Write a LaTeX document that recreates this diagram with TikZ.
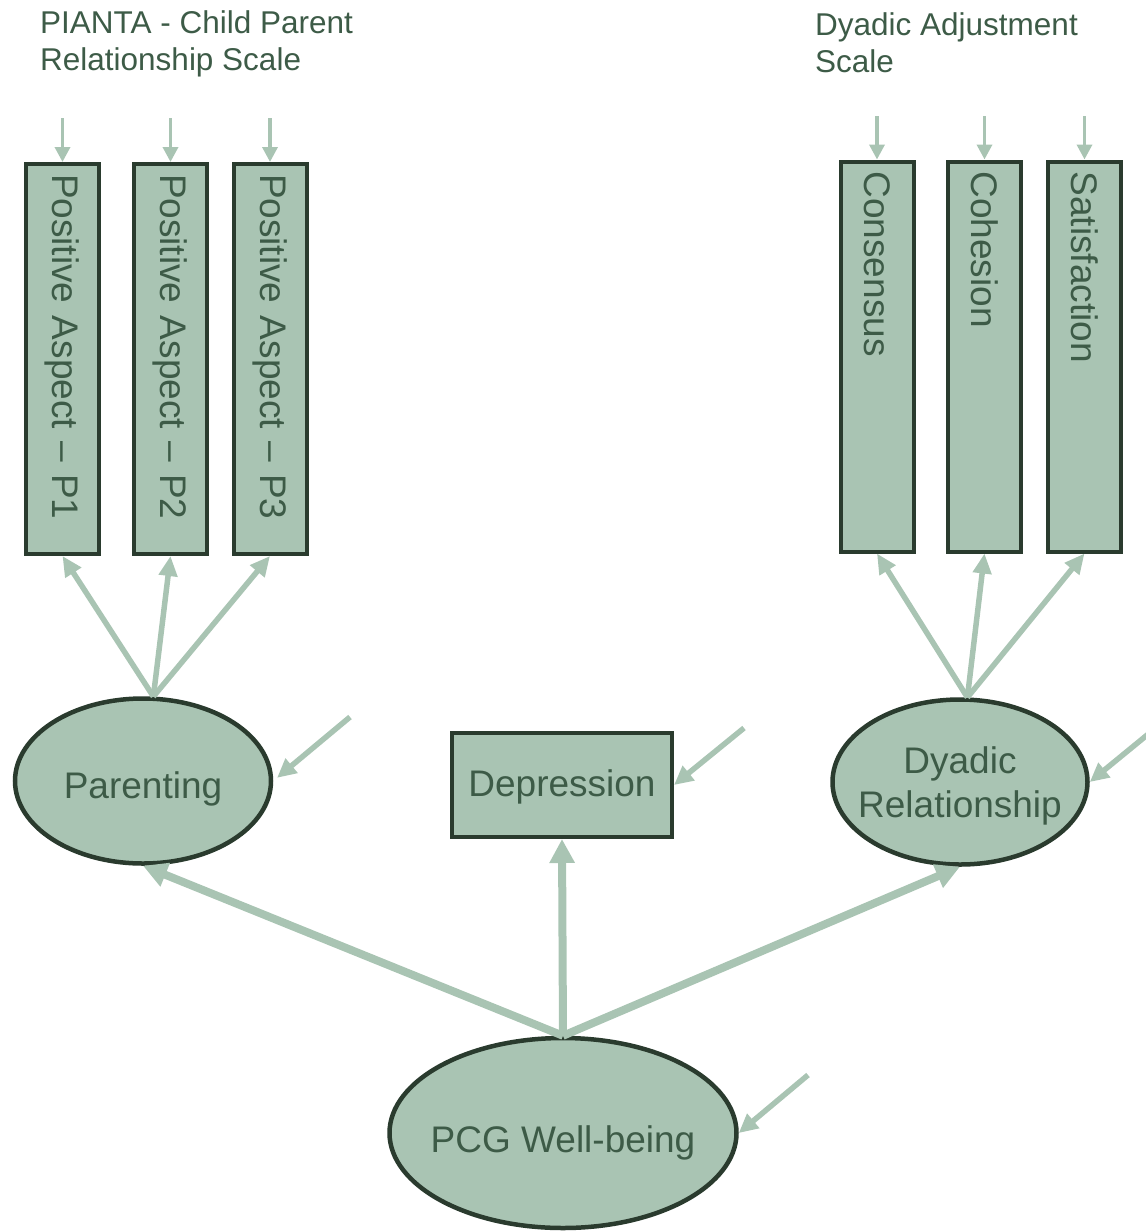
\documentclass[tikz,border=0pt]{standalone}
\usepackage{fontspec}
\setmainfont{Liberation Sans}
\usetikzlibrary{arrows.meta,shapes.geometric}
\definecolor{sage}{HTML}{A9C4B3}
\definecolor{dk}{HTML}{2A3B2E}
\definecolor{tx}{HTML}{3D5B47}
\newcommand{\zt}[2]{\makebox[0pt]{\raisebox{#1}[0pt][0pt]{#2}}}
\begin{document}
\begin{tikzpicture}[x=1pt,y=-1pt,
  ind/.style={draw=dk, line width=4pt, fill=sage, rotate=-90, minimum width=390pt,
    minimum height=73pt, text width=370pt, align=left, inner xsep=10pt, inner ysep=0pt,
    font=\fontsize{37}{44}\selectfont, text=tx},
  ell/.style={ellipse, draw=dk, line width=4.5pt, fill=sage, text=tx, align=center,
    inner sep=0pt, font=\fontsize{37}{44}\selectfont},
  obs/.style={rectangle, draw=dk, line width=4pt, fill=sage, text=tx,
    inner sep=0pt, font=\fontsize{37}{44}\selectfont},
  lbl/.style={anchor=north west, inner sep=0pt, align=left, text=tx,
    font=\fontsize{31.5}{37.5}\selectfont},
  arr/.style={draw=sage, line width=5.5pt, -{Triangle[length=20pt,width=18pt]}},
  sml/.style={draw=sage, line width=3.5pt, -{Triangle[length=15pt,width=15pt]}},
  thk/.style={draw=sage, line width=8pt, -{Triangle[length=24pt,width=24pt]}},
  err/.style={draw=sage, line width=5.5pt, -{Triangle[length=19pt,width=18pt]}}]
\useasboundingbox (0,0) rectangle (1146,1232);

% labels
\node[lbl] (lab1) at (40,10) {PIANTA - Child Parent\\Relationship Scale};
\node[lbl] (lab2) at (815,12) {Dyadic Adjustment\\Scale};

% indicator boxes
\node[ind] (b1) at (62.5,359) {Positive Aspect – P1};
\node[ind] (b2) at (170.5,359) {Positive Aspect – P2};
\node[ind] (b3) at (270,359) {Positive Aspect – P3};
\node[ind] (c1) at (877,356.5) {Consensus};
\node[ind] (c2) at (984.5,356.5) {Cohesion};
\node[ind] (c3) at (1084.5,356.5) {Satisfaction};

% latent / observed
\node[ell, minimum width=256pt, minimum height=165pt] (par) at (143,781) {\zt{-17pt}{Parenting}};
\node[ell, minimum width=255pt, minimum height=165pt] (dya) at (960,782) {\zt{-13pt}{Dyadic}\\\zt{-13pt}{Relationship}};
\node[ell, minimum width=347pt, minimum height=190pt] (pcg) at (563,1133) {\zt{-19pt}{PCG Well-being}};
\node[obs, minimum width=220pt, minimum height=104pt] (dep) at (562,785) {\zt{-11pt}{Depression}};

% free ends
\coordinate (t1) at (62.5,118);
\coordinate (t2) at (170.5,118);
\coordinate (t3) at (270,118);
\coordinate (u1) at (877,116);
\coordinate (u2) at (984.5,116);
\coordinate (u3) at (1084.5,116);
\coordinate (e1) at (350,717);
\coordinate (e2) at (744,728);
\coordinate (e3) at (1152,731);
\coordinate (e4) at (808,1075);

% error arrows on indicators
\foreach \a/\b in {t1/b1,t2/b2,t3/b3,u1/c1,u2/c2,u3/c3}
  \draw[sml] (\a) -- (\b.west);

% loadings
\foreach \b in {b1,b2,b3}
  \draw[arr] (par.83) -- (\b.east);
\foreach \b in {c1,c2,c3}
  \draw[arr] (dya.85) -- (\b.east);

% structural paths
\draw[thk] (pcg.north) -- (par.south);
\draw[thk] (pcg.north) -- (dep.south);
\draw[thk] (pcg.north) -- (dya.south);

% disturbances
\draw[err, shorten >=5pt] (e1) -- (par.east);
\draw[err] (e2) -- (dep.east);
\draw[err] (e3) -- (dya.east);
\draw[err] (e4) -- (pcg.east);
\end{tikzpicture}
\end{document}
